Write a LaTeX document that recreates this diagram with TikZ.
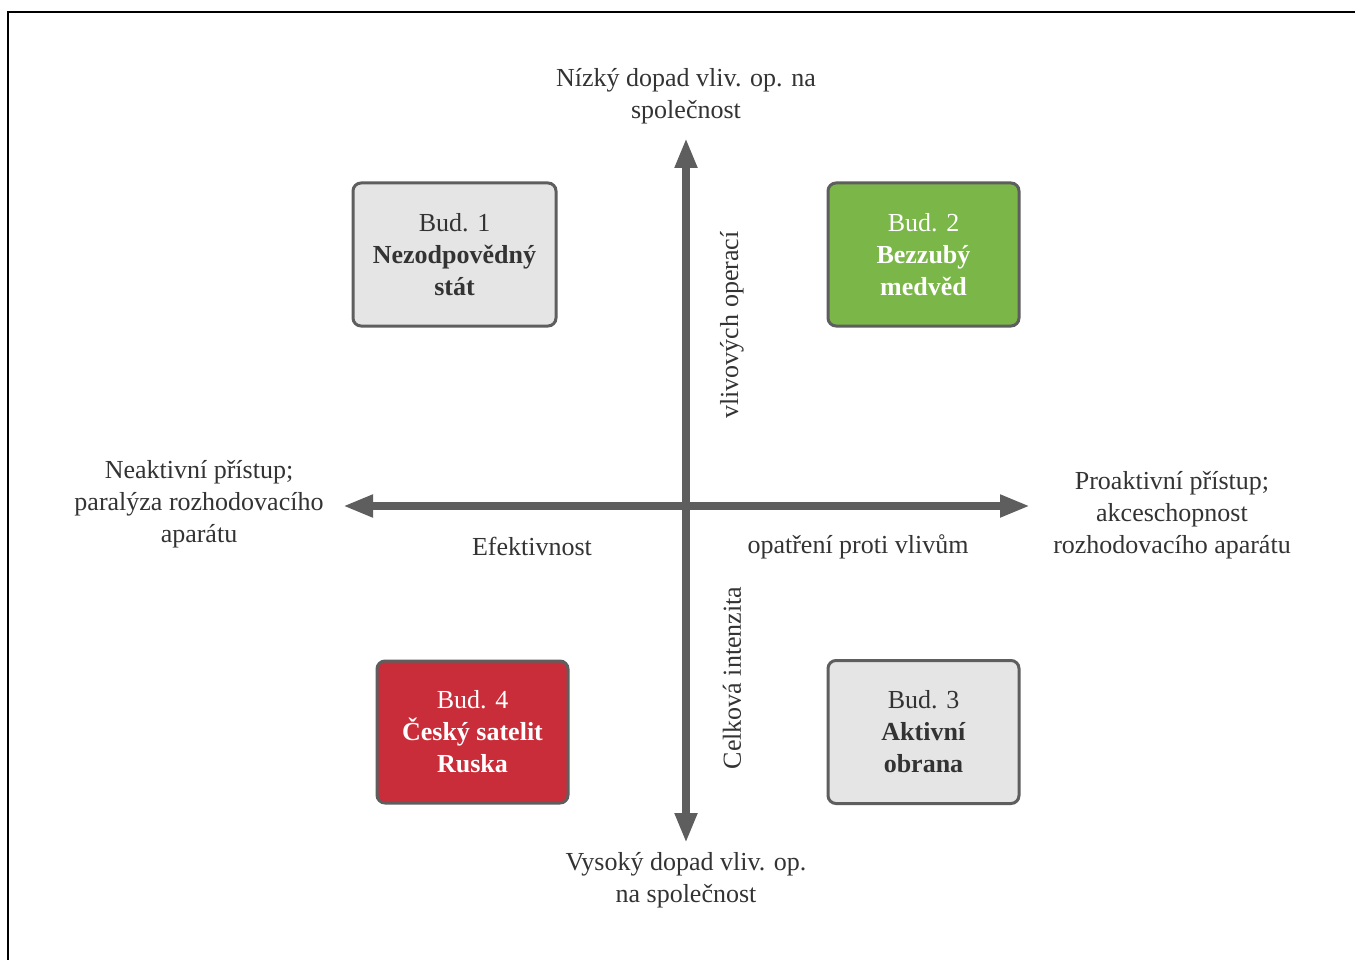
\documentclass[tikz,border=0pt]{standalone}
\usepackage{fontspec}
\setmainfont{Liberation Serif}
\usetikzlibrary{arrows.meta}
\definecolor{axisgray}{HTML}{5E5E5E}
\definecolor{txtgray}{HTML}{333333}
\definecolor{boxgray}{HTML}{E5E5E5}
\definecolor{boxgreen}{HTML}{7AB648}
\definecolor{boxred}{HTML}{C92D39}
\tikzset{
  lbl/.style={text=txtgray, align=center, inner sep=0pt, font=\fontsize{26}{32}\selectfont},
  scen/.style={draw=axisgray, line width=3pt, rounded corners=8pt, align=center, inner sep=0pt,
    minimum width=191pt, minimum height=142pt, font=\fontsize{26}{32}\selectfont},
  grayscen/.style={scen, fill=boxgray, text=txtgray},
  greenscen/.style={scen, fill=boxgreen, text=white},
  redscen/.style={scen, fill=boxred, text=white},
  axisarrow/.style={draw=axisgray, line width=8pt, {Triangle[width=21pt,length=30pt]}-{Triangle[width=21pt,length=30pt]}, color=axisgray},
}
\begin{document}
\begin{tikzpicture}[x=1pt,y=-1pt]
\useasboundingbox (0,0) rectangle (1355,960);
\fill[white] (0,0) rectangle (1355,960);
\coordinate (fa) at (8,960);
\coordinate (fb) at (8,12);
\coordinate (fc) at (1355,12);
\draw[line width=2.5pt, black] (fa) -- (fb) -- (fc);

% axis end points
\coordinate (top) at (686,138);
\coordinate (bot) at (686,843);
\coordinate (lft) at (343,506);
\coordinate (rgt) at (1030,506);
\draw[axisarrow] (top) -- (bot);
\draw[axisarrow] (lft) -- (rgt);

% axis labels
\node[lbl] (toplbl) at (686,96) {Nízký dopad vliv. op. na\\společnost};
\node[lbl] (botlbl) at (686,880) {Vysoký dopad vliv. op.\\na společnost};
\node[lbl] (lftlbl) at (199,504) {Neaktivní přístup;\\paralýza rozhodovacího\\aparátu};
\node[lbl] (rgtlbl) at (1172,515) {Proaktivní přístup;\\akceschopnost\\rozhodovacího aparátu};
\node[lbl] (efekt) at (532,546) {Efektivnost};
\node[lbl] (opatr) at (858,547) {opatření proti vlivům};
\node[lbl, rotate=90] (vlivop) at (732,325) {vlivových operací};
\node[lbl, rotate=90] (celk) at (732,678) {Celková intenzita};

% scenario boxes
\node[grayscen, minimum width=203pt, minimum height=143pt] (b1) at (454.5,254.5) {Bud. 1\\\textbf{Nezodpovědný}\\\textbf{stát}};
\node[greenscen, minimum height=143pt] (b2) at (923.5,254.5) {Bud. 2\\\textbf{Bezzubý}\\\textbf{medvěd}};
\node[redscen] (b4) at (472.5,732) {Bud. 4\\\textbf{Český satelit}\\\textbf{Ruska}};
\node[grayscen, minimum height=143pt] (b3) at (923.5,732) {Bud. 3\\\textbf{Aktivní}\\\textbf{obrana}};
\end{tikzpicture}
\end{document}
